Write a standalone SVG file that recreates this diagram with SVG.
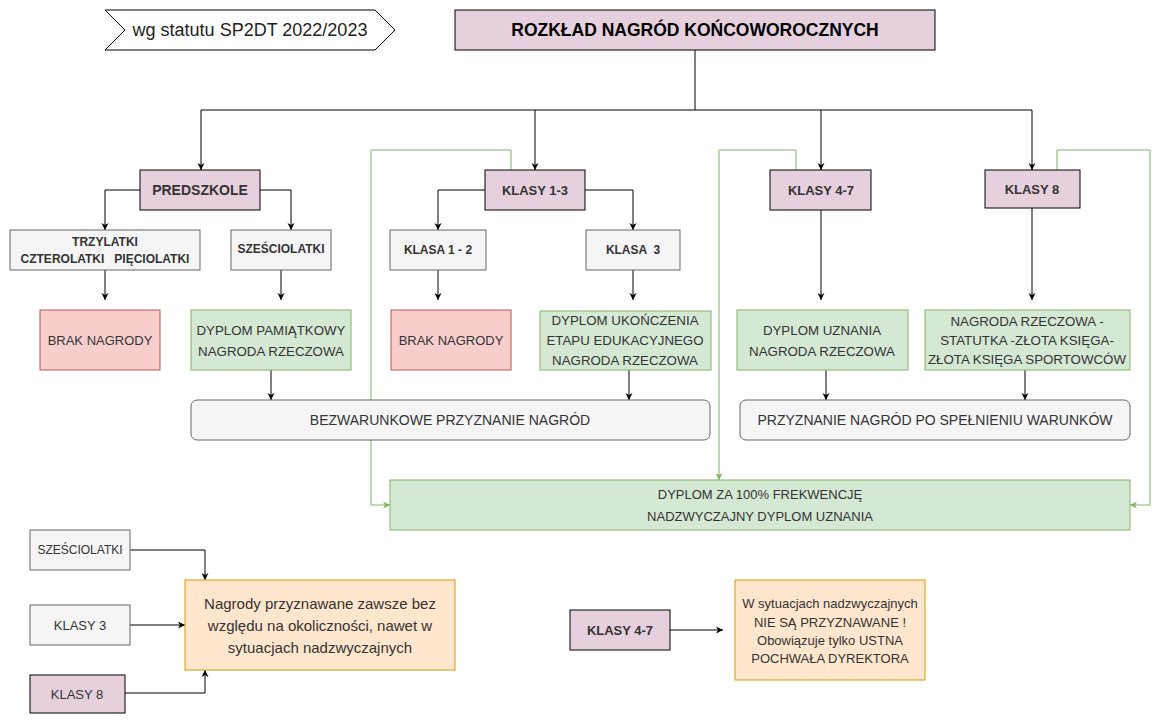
<svg xmlns="http://www.w3.org/2000/svg" width="1169" height="724" viewBox="0 0 1169 724">
  <style>
    text { font-family: "Liberation Sans", Arial, sans-serif; text-anchor: middle; dominant-baseline: central; fill: #000; }
    .b { font-weight: bold; }
    .grey { fill: #f5f5f5; stroke: #666666; stroke-width: 1; }
    .grey-t { fill: #333333; }
    .purple { fill: #e6d0de; stroke: #000; stroke-width: 1; }
    .red { fill: #f8cecc; stroke: #b85450; stroke-width: 1; }
    .green { fill: #d5e8d4; stroke: #82b366; stroke-width: 1; }
    .orange { fill: #ffe6cc; stroke: #d79b00; stroke-width: 1; }
    .edge { fill: none; stroke: #000; stroke-width: 1; marker-end: url(#arr); }
    .line { fill: none; stroke: #000; stroke-width: 1; }
    .edge-g { fill: none; stroke: #82b366; stroke-width: 1; marker-end: url(#arr-g); }
  </style>
  <defs>
    <marker id="arr" markerWidth="10" markerHeight="10" refX="8" refY="5" orient="auto" markerUnits="userSpaceOnUse">
      <path d="M1,1.5 L8,5 L1,8.5 L3,5 Z" fill="#000"/>
    </marker>
    <marker id="arr-g" markerWidth="10" markerHeight="10" refX="8" refY="5" orient="auto" markerUnits="userSpaceOnUse">
      <path d="M1,1.5 L8,5 L1,8.5 L3,5 Z" fill="#82b366"/>
    </marker>
  </defs>
  <rect width="1169" height="724" fill="#fff"/>

  <!-- connectors -->
  <g id="connectors">
    <path class="line" d="M695,50 V110"/>
    <path class="line" d="M201,110 H1032"/>
    <path class="edge" d="M201,110 V170"/>
    <path class="edge" d="M535,110 V170"/>
    <path class="edge" d="M821,110 V170"/>
    <path class="edge" d="M1032,110 V170"/>

    <path class="edge" d="M140,190 H105 V230"/>
    <path class="edge" d="M260,190 H291 V230"/>
    <path class="edge" d="M105,270 V300"/>
    <path class="edge" d="M281,270 V300"/>
    <path class="edge" d="M271,370 V400"/>

    <path class="edge" d="M485,190 H438 V230"/>
    <path class="edge" d="M585,190 H633 V230"/>
    <path class="edge" d="M438,270 V300"/>
    <path class="edge" d="M633,270 V300"/>
    <path class="edge" d="M629,370 V400"/>

    <path class="edge" d="M821,210 V300"/>
    <path class="edge" d="M1032,208 V300"/>
    <path class="edge" d="M826,370 V400"/>
    <path class="edge" d="M1025,370 V400"/>

    <path class="edge-g" d="M511,170 V150 H371 V505 H390"/>
    <path class="edge-g" d="M796,170 V150 H719 V480"/>
    <path class="edge-g" d="M1057,170 V150 H1150 V505 H1130"/>

    <path class="edge" d="M130,550 H205 V580"/>
    <path class="edge" d="M130,625 H185"/>
    <path class="edge" d="M125,693 H205 V670"/>
    <path class="edge" d="M670,630 H723"/>
  </g>

  <!-- header -->
  <g id="statut">
    <polygon points="105,10 375,10 395,30 375,50 105,50 125,30" fill="#fff" stroke="#000"/>
    <text x="250" y="30" font-size="18" style="fill:#222">wg statutu SP2DT 2022/2023</text>
  </g>
  <g id="title">
    <rect x="455" y="10" width="480" height="40" class="purple"/>
    <text x="695" y="30" font-size="17.5" class="b">ROZKŁAD NAGRÓD KOŃCOWOROCZNYCH</text>
  </g>

  <!-- PREDSZKOLE branch -->
  <g id="predszkole">
    <rect x="140" y="170" width="120" height="40" class="purple"/>
    <text x="200" y="190" font-size="14" class="b grey-t">PREDSZKOLE</text>
  </g>
  <g id="trzylatki">
    <rect x="10" y="230" width="190" height="40" class="grey"/>
    <text x="105" y="242" font-size="12" class="b grey-t">TRZYLATKI</text>
    <text x="105" y="259" font-size="12" class="b grey-t" xml:space="preserve">CZTEROLATKI   PIĘCIOLATKI</text>
  </g>
  <g id="szesciolatki">
    <rect x="231" y="230" width="100" height="40" class="grey"/>
    <text x="281" y="249" font-size="12" class="b grey-t">SZEŚCIOLATKI</text>
  </g>
  <g id="brak1">
    <rect x="40" y="310" width="120" height="60" class="red"/>
    <text x="100" y="340" font-size="13" class="grey-t">BRAK NAGRODY</text>
  </g>
  <g id="dyplom-pamiatkowy">
    <rect x="191" y="310" width="160" height="60" class="green"/>
    <text x="271" y="330" font-size="13.3" class="grey-t">DYPLOM PAMIĄTKOWY</text>
    <text x="271" y="351" font-size="13.3" class="grey-t">NAGRODA RZECZOWA</text>
  </g>

  <!-- KLASY 1-3 branch -->
  <g id="klasy13">
    <rect x="485" y="170" width="100" height="40" class="purple"/>
    <text x="535" y="190" font-size="13" class="b grey-t">KLASY 1-3</text>
  </g>
  <g id="klasa12">
    <rect x="390" y="230" width="96" height="40" class="grey"/>
    <text x="438" y="250" font-size="12" class="b grey-t">KLASA 1 - 2</text>
  </g>
  <g id="klasa3">
    <rect x="586" y="230" width="94" height="40" class="grey"/>
    <text x="633" y="250" font-size="12" class="b grey-t" xml:space="preserve">KLASA  3</text>
  </g>
  <g id="brak2">
    <rect x="391" y="310" width="120" height="60" class="red"/>
    <text x="451" y="340" font-size="13" class="grey-t">BRAK NAGRODY</text>
  </g>
  <g id="dyplom-ukonczenia">
    <rect x="540" y="311" width="171" height="59" class="green"/>
    <text x="625" y="320" font-size="13.3" class="grey-t">DYPLOM UKOŃCZENIA</text>
    <text x="625" y="340" font-size="13.3" class="grey-t">ETAPU EDUKACYJNEGO</text>
    <text x="625" y="360" font-size="13.3" class="grey-t">NAGRODA RZECZOWA</text>
  </g>

  <!-- KLASY 4-7 / KLASY 8 branches -->
  <g id="klasy47">
    <rect x="770" y="170" width="101" height="40" class="purple"/>
    <text x="821" y="190" font-size="13" class="b grey-t">KLASY 4-7</text>
  </g>
  <g id="klasy8">
    <rect x="985" y="170" width="95" height="38" class="purple"/>
    <text x="1032" y="189" font-size="13" class="b grey-t">KLASY 8</text>
  </g>
  <g id="dyplom-uznania">
    <rect x="737" y="310" width="171" height="60" class="green"/>
    <text x="822" y="330" font-size="13.3" class="grey-t">DYPLOM UZNANIA</text>
    <text x="822" y="351" font-size="13.3" class="grey-t">NAGRODA RZECZOWA</text>
  </g>
  <g id="nagroda-statutka">
    <rect x="925" y="310" width="205" height="60" class="green"/>
    <text x="1027" y="321" font-size="13.3" class="grey-t">NAGRODA RZECZOWA -</text>
    <text x="1027" y="340" font-size="13.3" class="grey-t">STATUTKA -ZŁOTA KSIĘGA-</text>
    <text x="1027" y="359" font-size="13.3" class="grey-t">ZŁOTA KSIĘGA SPORTOWCÓW</text>
  </g>

  <!-- summary bars -->
  <g id="bezwarunkowe">
    <rect x="191" y="400" width="519" height="40" rx="6" class="grey"/>
    <text x="450" y="420" font-size="14" class="grey-t">BEZWARUNKOWE PRZYZNANIE NAGRÓD</text>
  </g>
  <g id="po-spelnieniu">
    <rect x="740" y="400" width="390" height="40" rx="6" class="grey"/>
    <text x="935" y="420" font-size="14" class="grey-t">PRZYZNANIE NAGRÓD PO SPEŁNIENIU WARUNKÓW</text>
  </g>
  <g id="frekwencja">
    <rect x="390" y="480" width="740" height="50" class="green"/>
    <text x="760" y="494" font-size="13" class="grey-t">DYPLOM ZA 100% FREKWENCJĘ</text>
    <text x="760" y="516" font-size="13" class="grey-t">NADZWYCZAJNY DYPLOM UZNANIA</text>
  </g>

  <!-- legend -->
  <g id="leg-szesciolatki">
    <rect x="30" y="530" width="100" height="40" class="grey"/>
    <text x="80" y="550" font-size="12" class="grey-t">SZEŚCIOLATKI</text>
  </g>
  <g id="leg-klasy3">
    <rect x="30" y="605" width="100" height="40" class="grey"/>
    <text x="80" y="625" font-size="13" class="grey-t">KLASY 3</text>
  </g>
  <g id="leg-klasy8">
    <rect x="30" y="675" width="95" height="38" class="purple"/>
    <text x="77" y="694" font-size="13" class="grey-t">KLASY 8</text>
  </g>
  <g id="leg-zawsze">
    <rect x="185" y="580" width="270" height="90" class="orange"/>
    <text x="320" y="603" font-size="15" class="grey-t">Nagrody przyznawane zawsze bez</text>
    <text x="320" y="625" font-size="15" class="grey-t">względu na okoliczności, nawet w</text>
    <text x="320" y="647" font-size="15" class="grey-t">sytuacjach nadzwyczajnych</text>
  </g>
  <g id="leg-klasy47">
    <rect x="570" y="610" width="100" height="40" class="purple"/>
    <text x="620" y="630" font-size="13" class="b grey-t">KLASY 4-7</text>
  </g>
  <g id="leg-nadzwyczajne">
    <rect x="735" y="580" width="190" height="100" class="orange"/>
    <text x="830" y="603" font-size="13" class="grey-t">W sytuacjach nadzwyczajnych</text>
    <text x="830" y="622" font-size="13" class="grey-t">NIE SĄ PRZYZNAWANE !</text>
    <text x="830" y="640" font-size="13" class="grey-t">Obowiązuje tylko USTNA</text>
    <text x="830" y="658" font-size="13" class="grey-t">POCHWAŁA DYREKTORA</text>
  </g>
</svg>
